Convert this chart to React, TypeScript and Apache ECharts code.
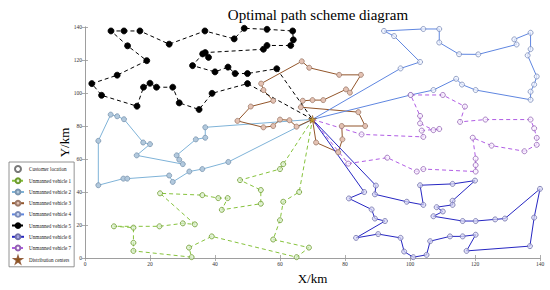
import React, { useEffect, useRef } from "react";
import * as echarts from "echarts";

const depot: [number, number] = [70, 84];

const xTicks = [0, 20, 40, 60, 80, 100, 120, 140];
const yTicks = [0, 20, 40, 60, 80, 100, 120, 140];

const vehicle1Route = [[61,56.9],[60,53.9],[47.7,47.2],[54.1,41.2],[54.1,32.9],[42.1,29.2],[43.9,36.3],[41,36.3],[36.1,38.1],[23.1,39.2],[33.8,20.4],[30.1,21],[22.9,19.2],[8.9,19.2],[14.9,18.4],[14.9,9.2],[14.9,4.3],[32.8,0.5],[32,6.3],[39,13.1],[65.1,0.5],[68.9,6.3],[57.9,11.2],[60,22.9],[61,34.1],[65.9,40]];

const vehicle2Route = [[37,79.2],[37,72.9],[34.1,71.9],[28.2,62.2],[29,59.6],[30.1,56.9],[15.9,62.2],[20,69],[17.9,70],[12,84.1],[9.9,85.9],[7.9,86.9],[4.1,71],[4.1,44.1],[11.8,48.1],[13,48.1],[25.9,50],[27,46.1],[32.1,52.4],[36.1,53.9],[44.1,58.2]];

const vehicle3Route = [[65.1,79.6],[62.9,83.5],[60,83.9],[57.9,80],[54.9,79.2],[46.9,83.1],[51,91.8],[57.9,95.3],[54.9,101.8],[54.2,105.7],[66.7,119.2],[69,115.3],[78.2,111],[84.9,111],[81.5,100.2],[80.3,102.2],[73.3,95.7],[70,95.7],[67,95.3],[66.4,91.4],[84.1,88.4],[86.2,80],[79,80],[79.2,71.9],[77.9,64.1],[71.1,70]];

const vehicle4Route = [[97.1,114.9],[103.1,118.8],[95.1,134.5],[92,137.6],[104.1,138.8],[109,138.8],[109,130.6],[115.1,123.5],[121,123.4],[132.8,129.4],[132.1,132.5],[137.1,136.5],[137.1,126.6],[136.2,122.8],[139,110],[138.2,105.1],[137.1,100.8],[137.1,95.9],[120.2,101.8],[116,105.1],[114.2,108.6],[107.2,101.8],[100.2,98.8]];

const vehicle5Route = [[50,105.7],[39.1,99.8],[35.1,90],[29,94],[27,103.5],[22,103.5],[20,105.9],[18,103.5],[16,92],[5.1,98.6],[2.1,105.7],[9.9,110.8],[19,119.6],[13.1,128.6],[8,137.6],[12,137.6],[16.9,137.6],[25.9,129.6],[36.9,137.6],[45.9,132.8],[49,139.2],[56,138.6],[63.9,137.6],[64.1,132.2],[63.3,128.8],[56,128.8],[54.9,126.5],[37,124.5],[38,121.6],[36.2,123.7],[33.1,116.6],[40,112.8],[44,115.7],[46.2,111.8],[50,111.8],[59,114.7]];

const vehicle6Route = [[89.5,43.9],[89.2,38.6],[99,34.1],[104.1,32.2],[103.1,44.1],[113.1,44.9],[120,46.9],[113.1,34.7],[113.1,32.2],[108.2,30.8],[110.1,28.2],[107.2,25.3],[116.2,22.4],[120.2,22.4],[126.2,23.4],[129.2,23.9],[140,41.9],[138.2,24.5],[136.9,7.2],[117.4,4.3],[120.2,14.1],[116.2,13.1],[112.3,13.1],[106.2,10.2],[105.1,1.9],[101,0.5],[98.2,3.9],[97.1,12.2],[90.2,14.5],[83.4,12.2],[92.3,22.4],[89.2,23.9],[88.2,29.4],[81.2,36.1],[85.9,40]];

const vehicle7Route = [[85.1,74.9],[104.1,73.4],[103.6,77.2],[109,78.2],[107.2,77.5],[103.1,81.6],[103.1,86.1],[100.2,98.8],[110.1,98.8],[116.9,91.8],[115.4,82.5],[123.2,83.9],[137.1,83.9],[138.2,78.6],[139,72.8],[139,68.6],[135.2,64.7],[125.1,68.1],[119.3,72.9],[120.2,60.2],[120.2,56.3],[120.2,52.4],[104.1,53.9],[102.1,52.4],[93,60.8],[81,57.2]];

const STAR = "path://M50,0 L61,35 L98,35 L68,57 L79,91 L50,70 L21,91 L32,57 L2,35 L39,35 Z";
const SERIF = "'Liberation Serif', 'Times New Roman', serif";

function withDepot(pts: number[][]) {
  return [
    { value: depot, symbol: "none" },
    ...pts.map((p) => ({ value: p })),
    { value: depot, symbol: "none" },
  ];
}

function routeSeries(name: string, pts: number[][], line: string, dashed: boolean, fill: string, border: string, size = 5) {
  return {
    name,
    type: "line",
    data: withDepot(pts),
    symbol: "circle",
    symbolSize: size,
    showSymbol: true,
    lineStyle: { color: line, width: 1, type: dashed ? [4, 3] : "solid" },
    itemStyle: { color: fill, borderColor: border, borderWidth: 0.8 },
    emphasis: { disabled: true },
    z: 3,
  };
}

export default function App() {
  const ref = useRef<HTMLDivElement>(null);
  useEffect(() => {
    const chart = echarts.init(ref.current!, null, { renderer: "svg" });
    const axisLine = { show: true, lineStyle: { color: "#999", width: 0.8 } };
    const axisTick = { show: true, inside: true, length: 3, lineStyle: { color: "#999", width: 0.8 } };
    const labelStyle = { fontSize: 5.5, color: "#333", fontFamily: SERIF };
    chart.setOption({
      animation: false,
      title: {
        text: "Optimal path scheme diagram",
        left: 313,
        textAlign: "center",
        top: 2,
        textStyle: { fontSize: 15, fontWeight: "normal", color: "#000", fontFamily: SERIF },
      },
      grid: { left: 85, right: 10, top: 27, bottom: 26 },
      legend: {
        orient: "vertical",
        left: 9,
        top: 162,
        itemWidth: 12,
        itemHeight: 6,
        itemGap: 4.4,
        padding: [3, 3, 3, 2],
        borderColor: "#777",
        borderWidth: 0.8,
        backgroundColor: "#fff",
        textStyle: { fontSize: 5.1, lineHeight: 6.6, color: "#222", fontFamily: SERIF },
        data: [
          "Customer location",
          "Unmanned vehicle 1",
          "Unmanned vehicle 2",
          "Unmanned vehicle 3",
          "Unmanned vehicle 4",
          "Unmanned vehicle 5",
          "Unmanned vehicle 6",
          "Unmanned vehicle 7",
          "Distribution centers",
        ],
      },
      xAxis: [
        {
          type: "value", min: xTicks[0], max: xTicks[xTicks.length - 1], interval: 20,
          axisLine, axisTick, splitLine: { show: false },
          axisLabel: { ...labelStyle, margin: 3 },
          name: "X/km", nameLocation: "middle", nameGap: 14, nameMoveOverlap: false,
          nameTextStyle: { fontSize: 13, color: "#000", fontFamily: SERIF },
        },
        {
          type: "value", position: "top", min: xTicks[0], max: xTicks[xTicks.length - 1], interval: 20,
          axisLine, axisTick, splitLine: { show: false }, axisLabel: { show: false },
        },
      ],
      yAxis: [
        {
          type: "value", min: yTicks[0], max: yTicks[yTicks.length - 1], interval: 20,
          axisLine, axisTick, splitLine: { show: false },
          axisLabel: { ...labelStyle, margin: 3 },
          name: "Y/km", nameLocation: "middle", nameGap: 14, nameRotate: 90, nameMoveOverlap: false,
          nameTextStyle: { fontSize: 13, color: "#000", fontFamily: SERIF },
        },
        {
          type: "value", position: "right", min: yTicks[0], max: yTicks[yTicks.length - 1], interval: 20,
          axisLine, axisTick, splitLine: { show: false }, axisLabel: { show: false },
        },
      ],
      series: [
        {
          name: "Customer location", type: "scatter", data: [], symbol: "circle", symbolSize: 6,
          itemStyle: { color: "#fff", borderColor: "#555", borderWidth: 0.8 },
        },
        routeSeries("Unmanned vehicle 1", vehicle1Route, "#86c23c", true, "rgba(215,238,200,0.7)", "#6d9a2c"),
        routeSeries("Unmanned vehicle 2", vehicle2Route, "#7fb3d8", false, "#b2c9dd", "#7a94ae"),
        routeSeries("Unmanned vehicle 3", vehicle3Route, "#92552a", false, "#e4c2b3", "#9c7a6a"),
        routeSeries("Unmanned vehicle 4", vehicle4Route, "#5f86e0", false, "rgba(240,244,255,0.7)", "#7b8bb8"),
        routeSeries("Unmanned vehicle 5", vehicle5Route, "#000000", true, "#000000", "#000000", 6),
        routeSeries("Unmanned vehicle 6", vehicle6Route, "#2626c2", false, "rgba(215,215,245,0.7)", "#7070aa"),
        routeSeries("Unmanned vehicle 7", vehicle7Route, "#b05ce4", true, "rgba(250,240,255,0.7)", "#9262b2"),
        {
          name: "Distribution centers", type: "scatter", data: [depot], symbol: STAR, symbolSize: 8,
          itemStyle: { color: "#c9a21a", borderColor: "#7a3a10", borderWidth: 0.6 }, z: 10,
        },
      ],
    });
    return () => chart.dispose();
  }, []);
  return <div ref={ref} style={{ width: 550, height: 290, position: "absolute", left: 0, top: 0 }} />;
}
